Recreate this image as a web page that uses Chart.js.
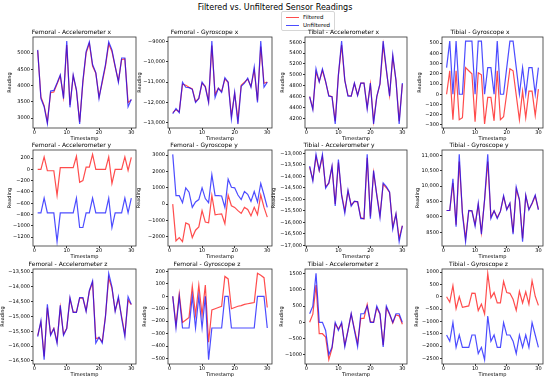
<!DOCTYPE html>
<html>
<head>
<meta charset="utf-8">
<script src="https://cdn.jsdelivr.net/npm/chart.js@4.4.1/dist/chart.umd.min.js"></script>
<style>
  body { margin: 0; background: #fff; width: 550px; height: 382px; position: relative; overflow: hidden; font-family: "DejaVu Sans", sans-serif; }
  canvas { position: absolute; }
  #suptitle { position: absolute; left: 0; top: 3px; width: 550px; text-align: center; font-size: 8px; line-height: 10px; color: #000; }
  #legend { position: absolute; left: 281px; top: 11px; border: 1px solid #d6d6d6; border-radius: 2px; padding: 1px 4px; font-size: 5.5px; line-height: 8px; color: #000; background: #fff; }
  #legend .sw { display: inline-block; width: 13px; height: 1px; vertical-align: middle; margin-right: 4px; }
</style>
</head>
<body>
<div id="suptitle">Filtered vs. Unfiltered Sensor Readings</div>
<div id="legend">
  <div><span class="sw" style="background:rgba(255,0,0,0.7)"></span>Filtered</div>
  <div><span class="sw" style="background:rgba(0,0,255,0.7)"></span>Unfiltered</div>
</div>
<script>
// Tijdstempels (x-as)
const timestamps = [1, 2, 3, 4, 5, 6, 7, 8, 9, 10, 11, 12, 13, 14, 15, 16, 17, 18, 19, 20, 21, 22, 23, 24, 25, 26, 27, 28, 29, 30];

const plotTitles = [
  "Femoral - Accelerometer x", "Femoral - Gyroscope x", "Tibial - Accelerometer x", "Tibial - Gyroscope x",
  "Femoral - Accelerometer y", "Femoral - Gyroscope y", "Tibial - Accelerometer y", "Tibial - Gyroscope y",
  "Femoral - Accelerometer z", "Femoral - Gyroscope z", "Tibial - Accelerometer z", "Tibial - Gyroscope z"
];

// Stapgrootte van de y-ticks per grafiek
const yStep = [500, 1000, 200, 100, 200, 1000, 500, 500, 500, 100, 500, 500];

// Meetwaarden
const femoralAccX_filtered = [5080, 3650, 3380, 2880, 3780, 3800, 4050, 4300, 3650, 5250, 3400, 4300, 3850, 2880, 4100, 5000, 5300, 4600, 4380, 3650, 4100, 4600, 5280, 5050, 4580, 4150, 4800, 4820, 3480, 3560];
const femoralAccX_unfiltered = [5100, 3600, 3350, 2830, 3830, 3850, 4080, 4330, 3600, 5370, 3330, 4330, 3870, 2820, 4150, 5050, 5350, 4650, 4400, 3600, 4150, 4650, 5350, 5100, 4600, 4100, 4850, 4850, 3350, 3580];

const femoralGyrX_filtered = [-12500, -12350, -12450, -11100, -11150, -11250, -11330, -11950, -11800, -11050, -11200, -11950, -9200, -11600, -11300, -11450, -10850, -11000, -12650, -11550, -12850, -11150, -11000, -10850, -11200, -10400, -11900, -9250, -11050, -11000];
const femoralGyrX_unfiltered = [-12550, -12300, -12500, -11000, -11250, -11270, -11350, -12000, -11800, -11000, -11250, -12000, -8980, -11750, -11300, -11500, -10780, -11000, -12800, -11500, -13050, -11200, -11050, -10800, -11250, -10250, -12000, -8980, -11250, -11000];

const tibialAccX_filtered = [4600, 4380, 5050, 4880, 5080, 4870, 4620, 4600, 4150, 5000, 5550, 4900, 4620, 4610, 4840, 4630, 4850, 4850, 4400, 4830, 4150, 4600, 4830, 5550, 5080, 4630, 5330, 4900, 4150, 4830];
const tibialAccX_unfiltered = [4600, 4360, 5110, 4870, 5110, 4880, 4610, 4600, 4100, 5000, 5620, 4900, 4610, 4610, 4850, 4620, 4850, 4850, 4370, 4850, 4100, 4600, 4840, 5620, 5100, 4610, 5370, 4900, 4100, 4850];

const tibialGyrX_filtered = [0, 230, -250, 230, -250, -230, 260, 230, 200, -270, 210, 190, -290, -30, -30, -260, 230, -250, -220, 10, 250, 230, -10, -250, 30, -230, 30, 30, -210, 50];
const tibialGyrX_unfiltered = [260, 520, 0, 520, 0, 0, 520, 520, 520, 0, 520, 520, 0, 260, 260, 0, 520, 0, 0, 260, 520, 520, 260, 0, 260, 0, 260, 260, 0, 260];

const femoralAccY_filtered = [0, 0, 220, -25, -25, -25, -460, 30, 30, 30, 30, 30, 230, -230, -200, 40, 40, 265, 0, 0, 0, 0, 220, -250, 0, 0, 0, 220, -20, 210];
const femoralAccY_unfiltered = [-770, -770, -510, -770, -770, -770, -1280, -770, -770, -770, -770, -770, -510, -1030, -1030, -770, -770, -510, -770, -770, -770, -770, -510, -1030, -770, -770, -770, -510, -770, -510];

const femoralGyrY_filtered = [0, -2250, -2050, -2300, -1150, -1250, -2050, -1600, -1400, -400, -1100, -1150, 530, -650, -620, -600, -1200, 550, -100, -200, -400, -570, -200, -330, -720, -200, -650, 560, -200, -800];
const femoralGyrY_unfiltered = [3050, 520, 520, 90, 1000, 730, -200, 130, 280, 1000, 340, 90, 1800, 520, 520, 500, -200, 1530, 1030, 1000, 560, 280, 770, 600, 170, 770, 130, 1270, 560, -200];

const tibialAccY_filtered = [-13600, -14150, -13150, -13750, -13150, -14450, -14300, -13600, -15200, -13400, -14800, -15500, -14650, -15250, -15100, -15100, -15800, -15850, -13200, -15750, -13850, -14800, -15700, -14350, -14500, -14700, -16200, -15650, -16700, -16150];
const tibialAccY_unfiltered = [-13560, -14210, -13050, -13750, -13050, -14520, -14290, -13560, -15290, -13280, -14830, -15600, -14600, -15300, -15080, -15110, -15840, -15840, -13050, -15840, -13750, -14830, -15800, -14290, -14450, -14680, -16300, -15630, -16840, -16150];

const tibialGyrY_filtered = [9210, 9210, 10100, 8750, 10800, 9150, 8300, 9200, 9200, 8750, 9400, 8500, 9550, 10800, 9000, 9200, 8980, 9180, 9650, 9250, 9430, 8500, 9900, 9550, 8300, 9680, 9250, 9430, 9680, 9250];
const tibialGyrY_unfiltered = [9210, 9210, 10240, 8680, 11030, 9100, 8200, 9210, 9200, 8700, 9450, 8440, 9570, 11030, 8950, 9200, 8950, 9180, 9690, 9230, 9450, 8440, 9970, 9570, 8200, 9710, 9230, 9450, 9710, 9230];

const femoralAccZ_filtered = [-15650, -15200, -16350, -14700, -15600, -15400, -15850, -14700, -15600, -15400, -14400, -14850, -14850, -14380, -14380, -14800, -14150, -13850, -15750, -15720, -15850, -14980, -13700, -14050, -14800, -14400, -15000, -15600, -14450, -14600];
const femoralAccZ_unfiltered = [-15680, -15140, -16460, -14590, -15640, -15410, -15910, -14620, -15640, -15410, -14360, -14860, -14860, -14360, -14360, -14830, -14120, -13800, -15900, -15700, -15900, -15000, -13540, -14000, -14830, -14330, -15060, -15680, -14330, -14590];

const femoralGyrZ_filtered = [0, -230, 20, -210, -190, -170, 80, -150, 90, -150, 90, -370, -110, -100, -90, -80, 160, 140, -100, -90, -80, -75, -65, -60, -55, -50, 185, 170, 150, -90];
const femoralGyrZ_unfiltered = [0, -255, 0, -255, -255, -255, 0, -255, 0, -255, 0, -510, -255, -255, -255, -255, 0, 0, -255, -255, -255, -255, -255, -255, -255, -255, 0, 0, 0, -255];

const tibialAccZ_filtered = [0, 250, 1150, -350, -350, -450, -1150, -800, -50, -200, -50, -700, -250, 250, -200, -650, 120, 120, 550, 20, 0, 450, 250, -700, 450, 250, -20, 230, 200, -60];
const tibialAccZ_unfiltered = [265, 500, 1510, 0, 0, -250, -990, -770, 0, -250, 0, -750, -250, 270, -250, -750, 265, 265, 500, 0, 0, 500, 265, -760, 500, 265, 0, 265, 265, 0];

const tibialGyrZ_filtered = [0, -220, 450, -480, 0, -430, -400, -370, 150, 140, -560, -300, -700, 950, -40, 170, -250, -250, 620, 170, 140, -100, -550, 220, -250, 200, -300, 650, 20, -350];
const tibialGyrZ_unfiltered = [-1550, -1800, -1050, -2050, -1550, -2050, -2050, -2050, -1550, -1550, -2300, -2050, -2550, -780, -1800, -1550, -2050, -2050, -1050, -1550, -1550, -1800, -2300, -1550, -2050, -1550, -2050, -1050, -1550, -2050];

const filteredSeries = [
  femoralAccX_filtered, femoralGyrX_filtered, tibialAccX_filtered, tibialGyrX_filtered,
  femoralAccY_filtered, femoralGyrY_filtered, tibialAccY_filtered, tibialGyrY_filtered,
  femoralAccZ_filtered, femoralGyrZ_filtered, tibialAccZ_filtered, tibialGyrZ_filtered
];
const unfilteredSeries = [
  femoralAccX_unfiltered, femoralGyrX_unfiltered, tibialAccX_unfiltered, tibialGyrX_unfiltered,
  femoralAccY_unfiltered, femoralGyrY_unfiltered, tibialAccY_unfiltered, tibialGyrY_unfiltered,
  femoralAccZ_unfiltered, femoralGyrZ_unfiltered, tibialAccZ_unfiltered, tibialGyrZ_unfiltered
];

// Plaatsing van de plotvlakken (pixels)
const plotLeft = [33, 168, 305, 442];
const plotRight = [136, 272, 407, 543];
const plotTop = [37, 150, 269];
const plotBottom = [128, 246, 364];
const labelLeft = [[8, 138, 281, 418], [8, 137, 272, 416], [1, 143, 280, 415]];
const TITLE_H = 10;
const XAXIS_H = 14;
const FONT = "DejaVu Sans";

// Getallen zoals matplotlib ze toont
function fmt(v) {
  const a = Math.abs(Math.round(v));
  const s = a >= 10000 ? a.toLocaleString("en-US") : String(a);
  return (v < 0 ? "\u2212" : "") + s;
}

// Kader rond het plotvlak
const framePlugin = {
  id: "frame",
  afterDraw(chart) {
    const a = chart.chartArea;
    const ctx = chart.ctx;
    ctx.save();
    ctx.strokeStyle = "#333";
    ctx.lineWidth = 0.8;
    ctx.strokeRect(a.left, a.top, a.right - a.left, a.bottom - a.top);
    ctx.restore();
  }
};

for (let i = 0; i < 12; i++) {
  const r = Math.floor(i / 4), c = i % 4;
  const left = labelLeft[r][c] - 1;
  const top = plotTop[r] - TITLE_H;
  const w = plotRight[c] - left + 4;
  const h = TITLE_H + (plotBottom[r] - plotTop[r]) + XAXIS_H;

  const canvas = document.createElement("canvas");
  canvas.width = w;
  canvas.height = h;
  canvas.style.left = left + "px";
  canvas.style.top = top + "px";
  document.body.appendChild(canvas);

  const all = filteredSeries[i].concat(unfilteredSeries[i]);
  const lo = Math.min(...all), hi = Math.max(...all);
  const pad = (hi - lo) * 0.05;
  const step = yStep[i];
  const yAxisW = plotLeft[c] - left;

  new Chart(canvas.getContext("2d"), {
    type: "line",
    data: {
      datasets: [
        {
          label: "Unfiltered",
          data: timestamps.map((t, j) => ({ x: t, y: unfilteredSeries[i][j] })),
          borderColor: "rgba(0,0,255,0.7)",
          borderWidth: 1.2,
          pointRadius: 0,
          tension: 0,
          order: 0
        },
        {
          label: "Filtered",
          data: timestamps.map((t, j) => ({ x: t, y: filteredSeries[i][j] })),
          borderColor: "rgba(255,0,0,0.7)",
          borderWidth: 1.2,
          pointRadius: 0,
          tension: 0,
          order: 1
        }
      ]
    },
    options: {
      responsive: false,
      animation: false,
      layout: { padding: { left: 0, right: 4, top: 0, bottom: 0 } },
      plugins: {
        legend: { display: false },
        tooltip: { enabled: false },
        title: {
          display: true,
          text: plotTitles[i],
          color: "#000",
          font: { family: FONT, size: 6, weight: "normal" },
          padding: { top: 2, bottom: 0.8 }
        }
      },
      scales: {
        x: {
          type: "linear",
          min: -0.45,
          max: 31.45,
          afterBuildTicks: s => { s.ticks = [0, 10, 20, 30].map(v => ({ value: v })); },
          afterFit: s => { s.height = XAXIS_H; },
          grid: { display: true, drawOnChartArea: false, drawTicks: true, tickLength: 2, color: "#333" },
          border: { display: false },
          ticks: { color: "#000", font: { family: FONT, size: 5 }, padding: 0, maxRotation: 0 },
          title: { display: true, text: "Timestamp", color: "#000", font: { family: FONT, size: 5 }, padding: 0 }
        },
        y: {
          min: lo - pad,
          max: hi + pad,
          afterBuildTicks: s => {
            const ticks = [];
            for (let v = Math.ceil(s.min / step) * step; v <= s.max; v += step) ticks.push({ value: v });
            s.ticks = ticks;
          },
          afterFit: s => { s.width = yAxisW; },
          grid: { display: true, drawOnChartArea: false, drawTicks: true, tickLength: 2, color: "#333" },
          border: { display: false },
          ticks: { color: "#000", font: { family: FONT, size: 5 }, padding: 1, callback: v => fmt(v) },
          title: { display: true, text: "Reading", color: "#000", font: { family: FONT, size: 5 }, padding: 0 }
        }
      }
    },
    plugins: [framePlugin]
  });
}
</script>
</body>
</html>
